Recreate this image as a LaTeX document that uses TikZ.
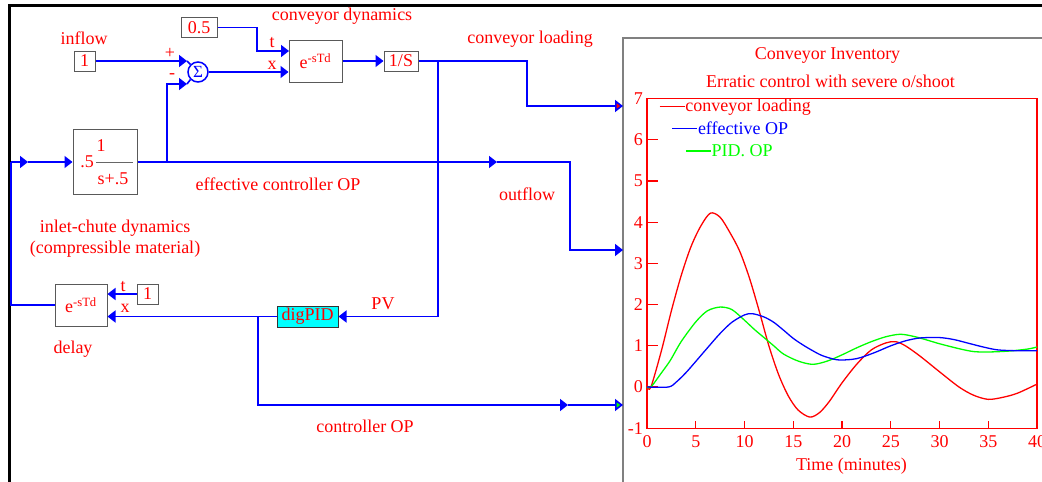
\documentclass[tikz,border=0pt]{standalone}
\usepackage{fontspec}
\setmainfont{Liberation Serif}
\usetikzlibrary{arrows.meta}

\definecolor{pidcyan}{RGB}{0,255,255}
\definecolor{plotgreen}{RGB}{0,255,0}

\tikzset{
  blk/.style={draw=black!65, line width=1pt, fill=white, text=red, inner sep=0pt},
  lbl/.style={text=red, inner sep=0pt},
  wire/.style={blue, line width=1.6pt},
  sig/.style={wire, -{Triangle[length=8pt,width=12pt]}},
  sigin/.style={wire, -{Triangle[length=8pt,width=12pt,fill=#1]}},
  curve/.style={line width=1.3pt},
}

\begin{document}
\begin{tikzpicture}[
    x=1pt,
    y=-1pt,
    font=\fontsize{18}{20}\selectfont,
]

\useasboundingbox (0,0) rectangle (1042,482);
\clip (0,0) rectangle (1042,482);

% Outer frame and plot frame
\draw[line width=2.5pt] (9.5,482) -- (9.5,5.5) -- (1042,5.5);
\draw[gray, line width=1.2pt] (623,482) -- (623,38) -- (1042,38);

% Blocks
\node[blk, minimum width=21pt, minimum height=20pt] (inflow) at (84.5,61) {1};
\node[blk, minimum width=36pt, minimum height=20pt] (gain) at (199,27.5) {0.5};
\node[circle, draw=blue, line width=1.5pt, text=blue, minimum size=20pt, inner sep=0pt,
      font=\fontsize{17}{17}\selectfont] (sum) at (198,72) {Σ};
\node[blk, minimum width=53pt, minimum height=42pt] (cdelay) at (315.5,61) {e\textsuperscript{-sTd}};
\node[blk, minimum width=34pt, minimum height=20pt] (integ) at (401,61) {1/S};
\node[blk, minimum width=64pt, minimum height=65pt] (lag) at (105,162) {};
\node[blk, minimum width=52pt, minimum height=42pt] (ddelay) at (81,305) {e\textsuperscript{-sTd}};
\node[blk, minimum width=21pt, minimum height=20pt] (dtime) at (147.5,294) {1};
\node[blk, fill=pidcyan, draw=black!80, minimum width=61pt, minimum height=21pt] (pid) at (307.5,316.5) {digPID};

% Lag transfer function
\node[lbl] (lagK) at (87,162) {.5};
\node[lbl] (lagNum) at (101,146) {1};
\node[lbl] (lagDen) at (113,179) {s+.5};
\coordinate (barL) at (96,162);
\coordinate (barR) at (133,162);
\draw[black!60, line width=1pt] (barL) -- (barR);

% Junctions and bends
\coordinate (sumA) at (187,61);
\coordinate (sumB) at (187,84);
\coordinate (tBend) at (257,40);
\coordinate (tIn) at (289,51);
\coordinate (jLoad) at (527,83);
\coordinate (loadIn) at (623,106);
\coordinate (jPV) at (438,61);
\coordinate (jEff) at (167,162);
\coordinate (mEff) at (497,162);
\coordinate (jOut) at (570,200);
\coordinate (outIn) at (623,250);
\coordinate (jFb) at (11,162);
\coordinate (mFb) at (28,162);
\coordinate (jCo) at (258,316.5);
\coordinate (mCo) at (568,405);
\coordinate (coIn) at (623,405);

% Signals
\draw[sig] (inflow.east) -- (sumA);
\draw[wire] (sumA) -- (sum.135);
\draw[sig] (jEff) |- (sumB);
\draw[wire] (sumB) -- (sum.225);
\draw[sig] (sum.east) -- (cdelay.west |- sum.east);
\draw[sig] (gain.east) -| (tBend) |- (tIn);
\draw[sig] (cdelay.east) -- (integ.west);
\draw[wire] (integ.east) -- (jPV);
\draw[sigin=red] (jPV) -| (jLoad) |- (loadIn);
\draw[sig] (jPV) |- (pid.east);
\draw[sig] (lag.east) -- (mEff);
\draw[sigin=blue] (mEff) -| (jOut) |- (outIn);
\draw[wire] (ddelay.west) -| (jFb);
\draw[sig] (jFb) -- (mFb);
\draw[sig] (mFb) -- (lag.west);
\draw[sig] (dtime.west) -- (ddelay.east |- dtime.west);
\draw[sig] (pid.west) -- (ddelay.east |- pid.west);
\draw[sig] (jCo) |- (mCo);
\draw[sigin=plotgreen] (mCo) -- (coIn);

% Labels
\node[lbl] (lInflow) at (84,38) {inflow};
\node[lbl] (lPlus) at (170,53) {+};
\node[lbl] (lMinus) at (172,76) {-};
\node[lbl] (lT1) at (272,43) {t};
\node[lbl] (lX1) at (272,65) {x};
\node[lbl] (lConvDyn) at (342,16) {conveyor dynamics};
\node[lbl] (lLoading) at (530,39) {conveyor loading};
\node[lbl] (lEffOP) at (278,184) {effective controller OP};
\node[lbl] (lOutflow) at (527,194) {outflow};
\node[lbl] (lInlet) at (115,228) {inlet-chute dynamics};
\node[lbl] (lCompr) at (115,249) {(compressible material)};
\node[lbl] (lT2) at (123,287) {t};
\node[lbl] (lX2) at (125,308) {x};
\node[lbl] (lDelay) at (73,349) {delay};
\node[lbl] (lPV) at (383,304) {PV};
\node[lbl] (lCtrlOP) at (365,426) {controller OP};

% Plot titles
\node[lbl] (ttl1) at (827.5,55) {Conveyor Inventory};
\node[lbl] (ttl2) at (830.5,81) {Erratic control with severe o/shoot};
\node[lbl] (xlab) at (851.5,466) {Time (minutes)};

% Plot
\coordinate (O) at (647,387);
\begin{scope}[shift={(O)}, x=9.75pt, y=41.2pt]

\draw[red, line width=1.2pt] (0,-1) rectangle (40,7);
\foreach \v in {-1,...,7} {
  \draw[red, line width=1.2pt] (0,\v) -- ++(11pt,0);
  \node[lbl, anchor=east] at ([xshift=-4pt]0,\v) {\v};
}
\foreach \t in {0,5,...,40} {
  \draw[red, line width=1.2pt] (\t,-1) -- ++(0,7pt);
  \node[lbl] at ([yshift=-13pt]\t,-1) {\t};
}

% Legend
\draw[red, curve] (1.3,6.8) -- ++(25pt,0) node[lbl, anchor=west] {conveyor loading};
\draw[blue, curve] (2.6,6.27) -- ++(25pt,0) node[lbl, text=blue, anchor=west] {effective OP};
\draw[plotgreen, curve] (4.0,5.73) -- ++(25pt,0) node[lbl, text=plotgreen, anchor=west] {PID. OP};

% Curves
\draw[red, curve] plot[smooth] coordinates {(0,0) (0.4,0) (1.5,0.9) (2.5,1.85) (3.5,2.7)
  (4.5,3.4) (5.5,3.9) (6.5,4.22) (7.5,4.12) (8.5,3.75) (9.5,3.3) (10.5,2.65) (11.5,1.85)
  (12.5,1.0) (13.5,0.3) (14.5,-0.22) (15.5,-0.56) (16.7,-0.73) (17.7,-0.62) (18.7,-0.35)
  (20,0.1) (21.5,0.55) (23,0.9) (24.5,1.07) (25.5,1.1) (26.5,1.0) (28,0.75) (30,0.37)
  (32,0.0) (33.5,-0.2) (35,-0.3) (36.5,-0.25) (38,-0.15) (40,0.07)};
\draw[plotgreen, curve] plot[smooth] coordinates {(0,0) (0.4,0) (1.5,0.35) (2.4,0.65) (3.5,1.1)
  (5,1.58) (6.2,1.85) (7.5,1.94) (8.7,1.88) (10,1.62) (11,1.4) (12,1.2) (13,1.0) (14,0.8)
  (15.5,0.63) (17,0.55) (18.5,0.63) (20,0.78) (21.5,0.95) (23,1.1) (24.5,1.22) (26,1.28)
  (27.5,1.22) (29,1.12) (30,1.05) (32,0.93) (33.5,0.86) (35,0.85) (37,0.87) (39,0.92) (40,0.97)};
\draw[blue, curve] plot[smooth] coordinates {(0,0) (2.2,0) (3,0.12) (4,0.35) (5,0.62)
  (6.2,0.95) (7.5,1.3) (8.7,1.57) (10,1.75) (10.8,1.78) (12,1.7) (13,1.57) (14,1.38) (15,1.18)
  (16,1.02) (17,0.88) (18,0.76) (19.5,0.66) (21,0.67) (22,0.72) (23.5,0.85) (25,1.0)
  (26.5,1.12) (28,1.19) (30,1.2) (31.5,1.15) (33,1.06) (34.5,0.97) (36,0.9) (38,0.88) (40,0.88)};

\end{scope}

\end{tikzpicture}
\end{document}
